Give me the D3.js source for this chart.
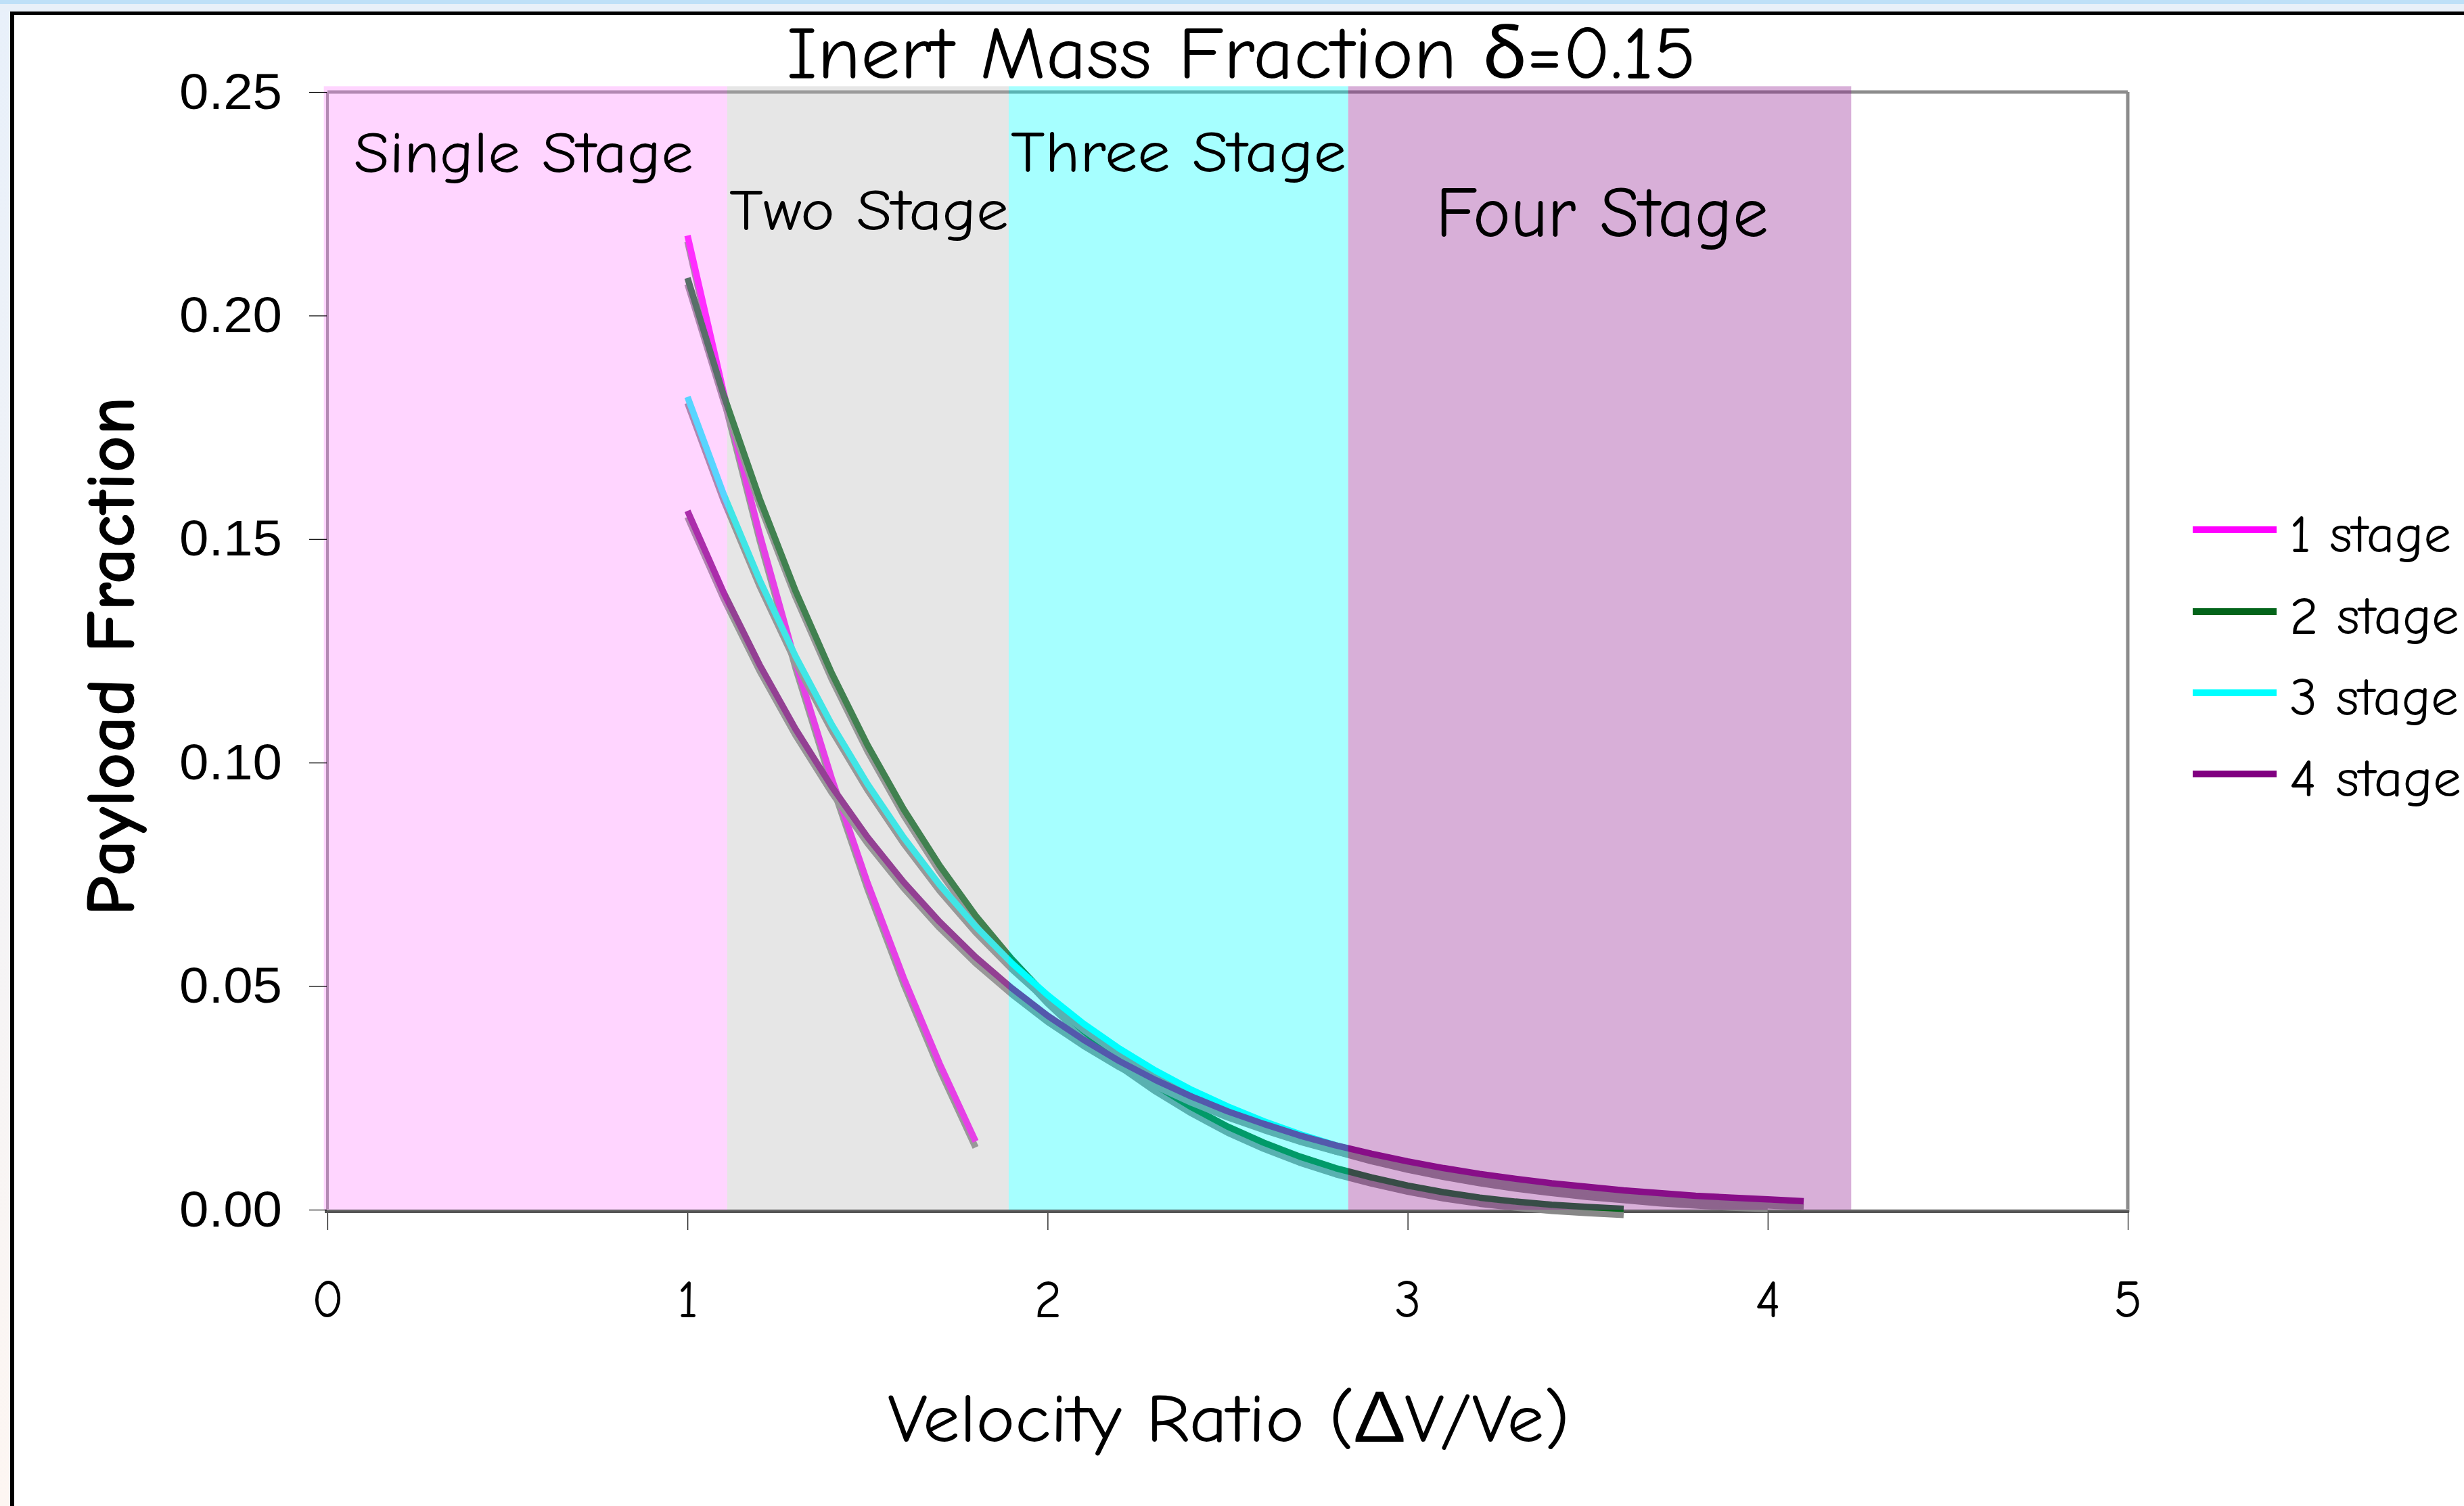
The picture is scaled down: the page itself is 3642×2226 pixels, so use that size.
<!DOCTYPE html>
<html>
<head>
<meta charset="utf-8">
<script src="https://cdn.jsdelivr.net/npm/d3@7"></script>
<style>
  html, body { margin: 0; padding: 0; background: #fff; }
  svg { display: block; }
</style>
</head>
<body>
<svg id="chart" width="3642" height="2226"></svg>
<script>
// ---------------- DATA ----------------
const seriesNames = ["1 stage", "2 stage", "3 stage", "4 stage"];
const seriesColors = ["#FF00FF", "#03641A", "#00FFFF", "#800080"];

const x1 = [1.0, 1.1, 1.2, 1.3, 1.4, 1.5, 1.6, 1.7, 1.8];
const y1 = [0.2179, 0.1829, 0.1512, 0.1225, 0.0966, 0.0731, 0.0519, 0.0327, 0.0153];

const x2 = [1.0, 1.1, 1.2, 1.3, 1.4, 1.5, 1.6, 1.7, 1.8, 1.9, 2.0, 2.1, 2.2, 2.3, 2.4, 2.5, 2.6, 2.7, 2.8, 2.9, 3.0, 3.1, 3.2, 3.3, 3.4, 3.5, 3.6];
const y2 = [0.2084, 0.1823, 0.1591, 0.1384, 0.1201, 0.1039, 0.0896, 0.0770, 0.0658, 0.0561, 0.0475, 0.0400, 0.0334, 0.0278, 0.0229, 0.0186, 0.0150, 0.0119, 0.0093, 0.0072, 0.0054, 0.0039, 0.0027, 0.0018, 0.0011, 0.0006, 0.0002];

const x3 = [1.0, 1.1, 1.2, 1.3, 1.4, 1.5, 1.6, 1.7, 1.8, 1.9, 2.0, 2.1, 2.2, 2.3, 2.4, 2.5, 2.6, 2.7, 2.8, 2.9, 3.0, 3.1, 3.2, 3.3, 3.4, 3.5, 3.6, 3.7, 3.8, 3.9, 4.0];
const y3 = [0.1818, 0.1601, 0.1409, 0.1238, 0.1086, 0.0952, 0.0833, 0.0727, 0.0634, 0.0552, 0.0480, 0.0416, 0.0360, 0.0311, 0.0268, 0.0231, 0.0198, 0.0169, 0.0144, 0.0122, 0.0103, 0.0087, 0.0073, 0.0061, 0.0051, 0.0042, 0.0035, 0.0028, 0.0023, 0.0018, 0.0015];

const x4 = [1.0, 1.1, 1.2, 1.3, 1.4, 1.5, 1.6, 1.7, 1.8, 1.9, 2.0, 2.1, 2.2, 2.3, 2.4, 2.5, 2.6, 2.7, 2.8, 2.9, 3.0, 3.1, 3.2, 3.3, 3.4, 3.5, 3.6, 3.7, 3.8, 3.9, 4.0, 4.1];
const y4 = [0.1563, 0.1381, 0.1219, 0.1075, 0.0947, 0.0833, 0.0733, 0.0644, 0.0565, 0.0496, 0.0434, 0.0380, 0.0332, 0.0290, 0.0253, 0.0220, 0.0192, 0.0166, 0.0144, 0.0125, 0.0108, 0.0093, 0.0080, 0.0069, 0.0059, 0.0051, 0.0043, 0.0037, 0.0031, 0.0027, 0.0023, 0.0019];

// stage regions (in velocity-ratio units)
const bandLabels = ["Single Stage", "Two Stage", "Three Stage", "Four Stage"];
const bandStart = [-0.01, 1.11, 1.892, 2.835];
const bandEnd   = [1.11, 1.892, 2.835, 4.232];
const bandTop = 0.2513;

const xTicks = [0, 1, 2, 3, 4, 5];
const yTicks = [0.00, 0.05, 0.10, 0.15, 0.20, 0.25];

const titleText = "Inert Mass Fraction \u03B4=0.15";
const xLabel = "Velocity Ratio (\u0394V/Ve)";
const yLabel = "Payload Fraction";

// ---------------- LAYOUT / STYLE ----------------
const W = 3642, H = 2226;
const comic = '"Comic Sans MS", "Comic Neue", "Lato", "Open Sans", sans-serif';
const arial = '"Liberation Sans", Arial, Helvetica, sans-serif';
const bandFill = ["rgb(255,132,255)", "rgb(183,183,183)", "rgb(0,255,255)", "rgb(149,38,149)"];
const bandAlpha = [0.34, 0.35, 0.35, 0.37];
const bandTextSize = [87, 87, 87, 105];
const bandTextBaseline = [255, 340, 254, 349];
const bandTextStart = [523, 1078, 1494, 2122];
const bandTextLen = [502, 413, 496, 492];

const svg = d3.select("#chart");

// slide frame
svg.append("rect").attr("x", 0).attr("y", 0).attr("width", W).attr("height", H).attr("fill", "#ffffff");
const defs = svg.append("defs");
const lg = defs.append("linearGradient").attr("id", "leftStrip").attr("x1", 0).attr("y1", 0).attr("x2", 0).attr("y2", 1);
lg.append("stop").attr("offset", "0%").attr("stop-color", "#E8F0FA");
lg.append("stop").attr("offset", "100%").attr("stop-color", "#FDF6F2");
svg.append("rect").attr("x", 0).attr("y", 0).attr("width", 15).attr("height", H).attr("fill", "url(#leftStrip)");
svg.append("rect").attr("x", 0).attr("y", 0).attr("width", W).attr("height", 6).attr("fill", "#BEE0F8");
svg.append("rect").attr("x", 0).attr("y", 6).attr("width", W).attr("height", 11).attr("fill", "#E8F0F9");
svg.append("rect").attr("x", 15).attr("y", 17).attr("width", W - 15).attr("height", 5).attr("fill", "#000");
svg.append("rect").attr("x", 15).attr("y", 17).attr("width", 6).attr("height", H - 17).attr("fill", "#000");

// scales
const x = d3.scaleLinear().domain([0, 5]).range([484, 3145]);
const y = d3.scaleLinear().domain([0, 0.25]).range([1788, 136]);

// plot-area border (top & right) and axes lines
const gFrame = svg.append("g");
gFrame.append("line").attr("x1", x(0)).attr("x2", x(5)).attr("y1", y(0.25)).attr("y2", y(0.25))
  .attr("stroke", "#8c8c8c").attr("stroke-width", 5);
gFrame.append("line").attr("x1", x(5)).attr("x2", x(5)).attr("y1", y(0.25)).attr("y2", y(0) + 4)
  .attr("stroke", "#8c8c8c").attr("stroke-width", 5);
gFrame.append("line").attr("x1", x(0)).attr("x2", x(0)).attr("y1", y(0.25)).attr("y2", y(0))
  .attr("stroke", "#8c8c8c").attr("stroke-width", 4);
gFrame.append("line").attr("x1", x(0) - 4).attr("x2", x(5) + 2).attr("y1", y(0) + 2.5).attr("y2", y(0) + 2.5)
  .attr("stroke", "#555555").attr("stroke-width", 5);
gFrame.append("line").attr("x1", x(0) - 4).attr("x2", x(5) + 2).attr("y1", y(0)).attr("y2", y(0))
  .attr("stroke", "#b0b0b0").attr("stroke-width", 1.5);

// series
const seriesX = [x1, x2, x3, x4];
const seriesY = [y1, y2, y3, y4];
const line = d3.line().x(d => x(d[0])).y(d => y(d[1]));
const gSeries = svg.append("g");
seriesNames.forEach((name, i) => {
  const pts = seriesX[i].map((v, k) => [v, seriesY[i][k]]);
  gSeries.append("path").datum(pts).attr("d", line)
    .attr("fill", "none").attr("stroke", "#888888").attr("stroke-width", 9.5)
    .attr("stroke-linejoin", "round").attr("transform", "translate(0,9)");
  gSeries.append("path").datum(pts).attr("d", line)
    .attr("fill", "none").attr("stroke", seriesColors[i]).attr("stroke-width", 9.5)
    .attr("stroke-linejoin", "round");
});

// translucent stage bands over the curves
const gBands = svg.append("g");
bandLabels.forEach((lab, i) => {
  gBands.append("rect")
    .attr("x", x(bandStart[i])).attr("width", x(bandEnd[i]) - x(bandStart[i]))
    .attr("y", y(bandTop)).attr("height", y(0) - y(bandTop))
    .attr("fill", bandFill[i]).attr("fill-opacity", bandAlpha[i]);
});
bandLabels.forEach((lab, i) => {
  svg.append("text")
    .attr("x", bandTextStart[i]).attr("y", bandTextBaseline[i])
    .attr("font-family", comic).attr("font-size", bandTextSize[i])
    .attr("textLength", bandTextLen[i]).attr("lengthAdjust", "spacingAndGlyphs")
    .attr("fill", "#000").text(lab);
});

// axes
const yAxis = d3.axisLeft(y).tickValues(yTicks).tickFormat(d3.format(".2f")).tickSize(26).tickPadding(40);
const gy = svg.append("g").attr("transform", `translate(${x(0) - 1},0)`).call(yAxis);
gy.select(".domain").remove();
gy.selectAll(".tick line").attr("stroke", "#000").attr("stroke-width", 1.2);
gy.selectAll(".tick text").attr("font-family", arial).attr("font-size", 75).attr("fill", "#000")
  .attr("textLength", 152).attr("lengthAdjust", "spacingAndGlyphs");

const xAxis = d3.axisBottom(x).tickValues(xTicks).tickFormat(d3.format("d")).tickSize(25).tickPadding(74);
const gx = svg.append("g").attr("transform", `translate(0,${y(0) + 5})`).call(xAxis);
gx.select(".domain").remove();
gx.selectAll(".tick line").attr("stroke", "#000").attr("stroke-width", 1.2);
gx.selectAll(".tick text").attr("font-family", comic).attr("font-size", 78).attr("fill", "#000");

// titles
svg.append("text").attr("x", 1835).attr("y", 115).attr("text-anchor", "middle")
  .attr("font-family", comic).attr("font-size", 110)
  .attr("textLength", 1345).attr("lengthAdjust", "spacingAndGlyphs").text(titleText);
svg.append("text").attr("x", 1816).attr("y", 2131).attr("text-anchor", "middle")
  .attr("font-family", comic).attr("font-size", 102)
  .attr("textLength", 1008).attr("lengthAdjust", "spacingAndGlyphs").text(xLabel);
svg.append("text").attr("transform", "translate(198,970) rotate(-90)").attr("text-anchor", "middle")
  .attr("font-family", comic).attr("font-size", 104).attr("font-weight", "bold")
  .attr("textLength", 768).attr("lengthAdjust", "spacingAndGlyphs").text(yLabel);

// legend
const legendY = [783, 904, 1024, 1144];
const legendLen = [239, 251, 250, 254];
const gLeg = svg.append("g");
seriesNames.forEach((name, i) => {
  gLeg.append("line").attr("x1", 3241).attr("x2", 3365).attr("y1", legendY[i]).attr("y2", legendY[i])
    .attr("stroke", seriesColors[i]).attr("stroke-width", 10);
  gLeg.append("text").attr("x", 3384).attr("y", legendY[i] + 33)
    .attr("font-family", comic).attr("font-size", 78)
    .attr("textLength", legendLen[i]).attr("lengthAdjust", "spacingAndGlyphs").text(name);
});
</script>
</body>
</html>
